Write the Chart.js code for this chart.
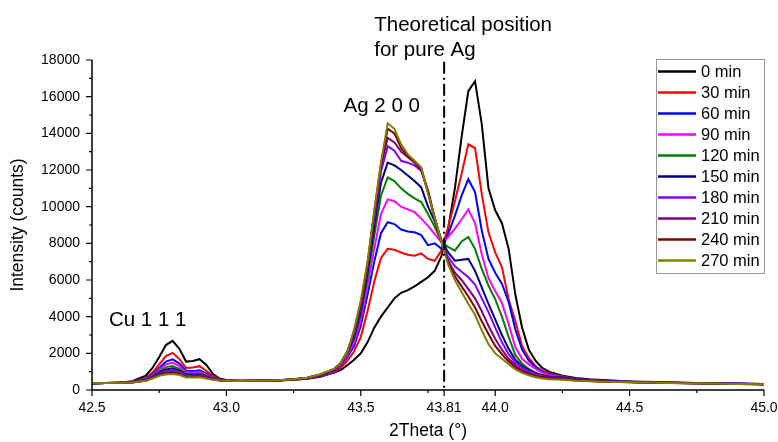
<!DOCTYPE html>
<html>
<head>
<meta charset="utf-8">
<script src="https://cdn.jsdelivr.net/npm/chart.js@4.4.1/dist/chart.umd.min.js"></script>
<style>
  html, body { margin: 0; padding: 0; background: #fff; }
  #wrap { width: 778px; height: 442px; }
</style>
</head>
<body>
<div id="wrap"><canvas id="xrd" width="778" height="442"></canvas></div>
<script>
const FONT = '"Liberation Sans", Arial, Helvetica, sans-serif';

// 2theta grid (deg), shared by all scans
const twoTheta = [
  42.50, 42.55, 42.60, 42.65, 42.70, 42.725, 42.75, 42.775, 42.80, 42.825, 42.85, 42.875,
  42.90, 42.925, 42.95, 42.975, 43.00, 43.05, 43.10, 43.15, 43.20, 43.25, 43.30, 43.35,
  43.40, 43.425, 43.45, 43.475, 43.50, 43.525, 43.55, 43.575, 43.60, 43.625, 43.65, 43.675,
  43.70, 43.725, 43.75, 43.775, 43.80, 43.825, 43.85, 43.875, 43.90, 43.925, 43.95, 43.975,
  44.00, 44.025, 44.05, 44.075, 44.10, 44.125, 44.15, 44.175, 44.20,
  44.25, 44.30, 44.35, 44.40, 44.50, 44.60, 44.70, 44.80, 44.90, 45.00
];

// intensities (counts) per annealing time
const i0 = [
  360, 380, 400, 480, 780, 1200, 1800, 2450, 2680, 2250, 1550, 1580,
  1680, 1380, 870, 620, 540, 500, 490, 500, 520, 560, 610, 720,
  950, 1090, 1350, 1650, 2000, 2600, 3400, 4000, 4500, 5000, 5300, 5450,
  5650, 5900, 6150, 6500, 7300, 8800, 11000, 13800, 16300, 16850, 14500, 11000,
  9800, 9100, 7700, 5200, 3400, 2200, 1600, 1200, 1000,
  780, 650, 580, 540, 470, 430, 400, 370, 350, 330
];
const i30 = [
  370, 385, 400, 450, 650, 950, 1400, 1850, 2020, 1700, 1200, 1230,
  1300, 1050, 750, 580, 530, 500, 500, 510, 530, 570, 620, 750,
  950, 1200, 1600, 2100, 2900, 4300, 5900, 7200, 7700, 7650, 7500, 7380,
  7320, 7450, 7150, 7050, 7600, 8900, 10300, 11800, 13400, 13200, 10700, 8600,
  7500, 6700, 4950, 3750, 2400, 1750, 1300, 1050, 900,
  750, 620, 540, 500, 450, 415, 390, 365, 345, 325
];
const i60 = [
  365, 385, 400, 440, 610, 850, 1200, 1550, 1670, 1450, 1050, 1030,
  1080, 900, 680, 560, 520, 500, 500, 510, 530, 570, 630, 780,
  1000, 1300, 1800, 2400, 3500, 5200, 7000, 8550, 9150, 9050, 8750, 8650,
  8600, 8450, 7900, 8000, 7700, 8500, 9500, 10600, 11500, 10800, 8700, 7150,
  6400, 5800, 4800, 3300, 2200, 1600, 1250, 1000, 850,
  720, 600, 530, 490, 445, 410, 385, 362, 342, 322
];
const i90 = [
  365, 385, 400, 435, 580, 800, 1100, 1400, 1490, 1300, 950, 950,
  990, 830, 650, 550, 515, 500, 500, 510, 530, 570, 640, 800,
  1050, 1350, 1900, 2600, 3800, 5700, 7700, 9600, 10400, 10300, 10000, 9850,
  9700, 9350, 8950, 8500, 8050, 8350, 8800, 9300, 9850, 9100, 7400, 6100,
  5400, 4750, 3600, 2330, 1700, 1400, 1150, 950, 820,
  710, 590, 520, 485, 440, 408, 383, 360, 340, 320
];
const i120 = [
  365, 385, 400, 430, 560, 760, 1000, 1250, 1310, 1150, 880, 880,
  900, 770, 620, 540, 510, 500, 500, 510, 530, 570, 640, 810,
  1080, 1400, 2000, 2800, 4100, 6100, 8400, 10600, 11600, 11400, 11000, 10700,
  10450, 10250, 9600, 8900, 8100, 7800, 7600, 8100, 8350, 7700, 6600, 5700,
  4950, 4000, 2900, 1900, 1450, 1150, 950, 820, 740,
  700, 585, 515, 480, 437, 405, 381, 358, 338, 318
];
const i150 = [
  365, 385, 400, 425, 540, 720, 930, 1120, 1180, 1050, 820, 820,
  840, 730, 600, 535, 505, 495, 500, 510, 530, 575, 650, 820,
  1100, 1420, 2050, 2900, 4300, 6400, 8900, 11300, 12400, 12250, 12000, 11700,
  11400, 11050, 10000, 9200, 8200, 7500, 7050, 7100, 7150, 6500, 5600, 4700,
  3850, 3000, 2250, 1650, 1300, 1080, 920, 800, 720,
  680, 575, 510, 475, 435, 403, 380, 357, 337, 317
];
const i180 = [
  365, 385, 400, 420, 530, 700, 880, 1040, 1090, 980, 780, 780,
  800, 700, 590, 530, 505, 495, 500, 510, 535, 580, 660, 830,
  1120, 1450, 2100, 3000, 4500, 6700, 9300, 11900, 13300, 13050, 12500, 12400,
  12250, 11950, 10800, 9300, 8100, 7250, 6750, 6450, 6150, 5750, 5000, 4250,
  3400, 2600, 1950, 1500, 1220, 1020, 870, 760, 690,
  660, 565, 505, 472, 432, 400, 378, 355, 335, 315
];
const i210 = [
  365, 385, 400, 420, 520, 670, 830, 960, 1000, 920, 740, 740,
  760, 670, 580, 525, 505, 495, 500, 510, 535, 580, 660, 840,
  1130, 1470, 2100, 3100, 4600, 6800, 9500, 12200, 13750, 13500, 13000, 12700,
  12400, 12000, 10900, 9400, 8100, 7050, 6400, 6000, 5500, 5000, 4300, 3500,
  2800, 2200, 1700, 1350, 1100, 920, 800, 720, 660,
  640, 555, 500, 468, 430, 398, 376, 353, 333, 313
];
const i240 = [
  365, 385, 400, 415, 510, 650, 800, 910, 940, 870, 710, 710,
  730, 650, 570, 520, 500, 495, 500, 510, 535, 585, 665, 850,
  1140, 1460, 2100, 3200, 4700, 6900, 9700, 12300, 14250, 14000, 13200, 12750,
  12450, 12100, 10800, 9400, 8100, 6950, 6200, 5650, 5100, 4500, 3750, 3050,
  2400, 1950, 1550, 1230, 1000, 860, 760, 690, 640,
  580, 520, 485, 460, 425, 395, 374, 352, 332, 312
];
const i270 = [
  365, 385, 400, 410, 500, 630, 770, 850, 870, 820, 680, 680,
  700, 630, 560, 515, 500, 495, 500, 510, 540, 590, 670, 860,
  1150, 1450, 2100, 3300, 4900, 7000, 9800, 12400, 14550, 14250, 13400, 12850,
  12500, 12150, 10700, 9400, 8100, 6850, 6000, 5350, 4700, 4100, 3250, 2500,
  2000, 1700, 1400, 1120, 930, 800, 700, 630, 590,
  560, 505, 475, 455, 420, 392, 372, 350, 330, 310
];

const seriesLabels = ["0 min", "30 min", "60 min", "90 min", "120 min",
                      "150 min", "180 min", "210 min", "240 min", "270 min"];
const seriesValues = [i0, i30, i60, i90, i120, i150, i180, i210, i240, i270];
const seriesColors = ["#000000", "#ff0000", "#0000ff", "#ff00ff", "#008000",
                      "#000080", "#8000ff", "#800080", "#800000", "#808000"];

const xMajor = [42.5, 43.0, 43.5, 43.81, 44.0, 44.5, 45.0];
const xMinor = [42.75, 43.25, 43.75, 44.25, 44.75];
const yTicks = [0, 2000, 4000, 6000, 8000, 10000, 12000, 14000, 16000, 18000];
const pureAg = 43.81;

// text notes, anchored in data units (left edge, baseline)
const notes = [
  { text: "Theoretical position", x: 43.55, y: 19560 },
  { text: "for pure Ag", x: 43.55, y: 18220 },
  { text: "Ag 2 0 0", x: 43.436, y: 15170 },
  { text: "Cu 1 1 1", x: 42.563, y: 3500 }
];

// axes, ticks, reference line, legend box and notes
const xrdDecor = {
  id: "xrdDecor",
  afterDatasetsDraw(chart) {
    const { ctx, chartArea: area, scales: { x, y } } = chart;
    ctx.save();

    const px = x.getPixelForValue(pureAg);
    ctx.strokeStyle = "#000";
    ctx.lineWidth = 2;
    ctx.setLineDash([12, 4, 2, 4]);
    ctx.beginPath();
    ctx.moveTo(px, y.getPixelForValue(17900));
    ctx.lineTo(px, area.bottom);
    ctx.stroke();
    ctx.setLineDash([]);

    ctx.lineWidth = 1.5;
    ctx.beginPath();
    ctx.moveTo(area.left, area.top);
    ctx.lineTo(area.left, area.bottom);
    ctx.lineTo(area.right, area.bottom);
    ctx.stroke();

    ctx.lineWidth = 1.2;
    ctx.beginPath();
    yTicks.forEach((v, i) => {
      const py = y.getPixelForValue(v);
      ctx.moveTo(area.left, py);
      ctx.lineTo(area.left - 6, py);
      if (i < yTicks.length - 1) {
        const pm = y.getPixelForValue(v + 1000);
        ctx.moveTo(area.left, pm);
        ctx.lineTo(area.left - 3, pm);
      }
    });
    xMajor.forEach(v => {
      const p = x.getPixelForValue(v);
      ctx.moveTo(p, area.bottom);
      ctx.lineTo(p, area.bottom + 6);
    });
    xMinor.forEach(v => {
      const p = x.getPixelForValue(v);
      ctx.moveTo(p, area.bottom);
      ctx.lineTo(p, area.bottom + 3);
    });
    ctx.stroke();

    // legend
    const lw = 108, lh = 214;
    const lx = area.right - lw, ly = area.top - 1;
    ctx.fillStyle = "#fff";
    ctx.fillRect(lx, ly, lw, lh);
    ctx.strokeStyle = "#999";
    ctx.lineWidth = 1;
    ctx.strokeRect(lx + 0.5, ly + 0.5, lw, lh);
    ctx.font = "16.5px " + FONT;
    ctx.textBaseline = "middle";
    ctx.textAlign = "left";
    chart.data.datasets.forEach((ds, i) => {
      const cy = ly + 12.5 + i * 21;
      ctx.strokeStyle = ds.borderColor;
      ctx.lineWidth = 2.5;
      ctx.beginPath();
      ctx.moveTo(lx + 2, cy);
      ctx.lineTo(lx + 40, cy);
      ctx.stroke();
      ctx.fillStyle = "#000";
      ctx.fillText(ds.label, lx + 45, cy + 1);
    });

    ctx.font = "20.5px " + FONT;
    ctx.textBaseline = "alphabetic";
    ctx.fillStyle = "#000";
    notes.forEach(n => {
      ctx.fillText(n.text, x.getPixelForValue(n.x), y.getPixelForValue(n.y));
    });
    ctx.restore();
  }
};

new Chart(document.getElementById("xrd"), {
  type: "line",
  data: {
    datasets: seriesLabels.map((label, i) => ({
      label,
      data: twoTheta.map((t, k) => ({ x: t, y: seriesValues[i][k] })),
      borderColor: seriesColors[i],
      backgroundColor: seriesColors[i],
      borderWidth: 2,
      pointRadius: 0,
      tension: 0,
      fill: false,
      order: seriesLabels.length - 1 - i
    }))
  },
  options: {
    responsive: false,
    animation: false,
    layout: { padding: { left: 0, right: 14, top: 60, bottom: 0 } },
    plugins: { legend: { display: false }, tooltip: { enabled: false } },
    scales: {
      x: {
        type: "linear",
        min: 42.5,
        max: 45,
        afterBuildTicks: s => { s.ticks = xMajor.map(v => ({ value: v })); },
        afterFit: s => { s.height = 52; s.paddingLeft = 0; s.paddingRight = 0; },
        grid: { display: false, drawTicks: false },
        border: { display: false },
        ticks: {
          autoSkip: false,
          maxRotation: 0,
          padding: 10,
          color: "#000",
          font: { family: FONT, size: 14 },
          callback: v => (v === pureAg ? "43.81" : v.toFixed(1))
        },
        title: {
          display: true,
          text: "2Theta (°)",
          color: "#000",
          font: { family: FONT, size: 17.5 },
          padding: { top: 0, bottom: 0 }
        }
      },
      y: {
        min: 0,
        max: 18000,
        afterBuildTicks: s => { s.ticks = yTicks.map(v => ({ value: v })); },
        afterFit: s => { s.width = 92; s.paddingTop = 0; s.paddingBottom = 0; },
        grid: { display: false, drawTicks: false },
        border: { display: false },
        ticks: {
          padding: 12,
          color: "#000",
          font: { family: FONT, size: 14 },
          callback: v => String(v)
        },
        title: {
          display: true,
          text: "Intensity (counts)",
          color: "#000",
          font: { family: FONT, size: 17.5 },
          padding: { top: 8, bottom: 0 }
        }
      }
    }
  },
  plugins: [xrdDecor]
});
</script>
</body>
</html>
